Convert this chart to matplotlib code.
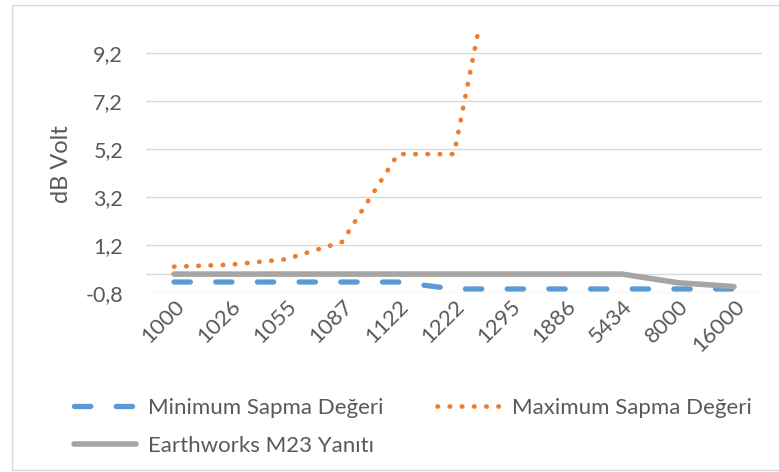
import matplotlib
matplotlib.use("Agg")
import matplotlib.pyplot as plt
from matplotlib.patches import Rectangle
import numpy as np

# Frequency points (Hz) used as categories on the x axis
frequencies = ["1000", "1026", "1055", "1087", "1122", "1222",
               "1295", "1886", "5434", "8000", "16000"]

# Responses in dB Volt
min_deviation = [-0.33, -0.33, -0.33, -0.33, -0.33, -0.62,
                 -0.62, -0.62, -0.62, -0.62, -0.62]
max_deviation = [0.31, 0.39, 0.62, 1.34, 5.0, 5.0,
                 16.8, np.nan, np.nan, np.nan, np.nan]
m23_response = [0.0, 0.0, 0.0, 0.0, 0.0, 0.0,
                0.0, 0.0, 0.0, -0.36, -0.52]

y_ticks = [-0.8, 1.2, 3.2, 5.2, 7.2, 9.2]
y_limits = (-0.8, 10.0)

series_names = ["Minimum Sapma Değeri", "Maximum Sapma Değeri",
                "Earthworks M23 Yanıtı"]

plt.rcParams['font.family'] = ['Lato', 'DejaVu Sans']

TEXT = '#595959'
GRID = '#D9D9D9'
BLUE = '#5B9BD5'
ORANGE = '#ED7D31'
GRAY = '#A5A5A5'

W, H = 779, 472
fig = plt.figure(figsize=(W / 100, H / 100), dpi=100)
fig.patch.set_facecolor('white')

# chart border
fig.patches.append(Rectangle((12 / W, 1 - 470 / H), 1.0, (470 - 5) / H,
                             transform=fig.transFigure, fill=False,
                             ec=GRID, lw=1.0))

ax = fig.add_axes([146 / W, 1 - 293.3 / H, (762 - 146) / W, (293.3 - 34.1) / H])
x = np.arange(len(frequencies))

ln_min, = ax.plot(x, min_deviation, color=BLUE, lw=3.8, dashes=(3.1, 4.8),
                  dash_capstyle='round', solid_capstyle='round', zorder=3,
                  label=series_names[0])
ln_max, = ax.plot(x, max_deviation, color=ORANGE, lw=3.4, dashes=(0.1, 2.48),
                  dash_capstyle='round', zorder=4, label=series_names[1])
ln_m23, = ax.plot(x, m23_response, color=GRAY, lw=4.0,
                  solid_capstyle='round', zorder=5, label=series_names[2])

ax.set_xlim(-0.5, len(frequencies) - 0.5)
ax.set_ylim(*y_limits)
ax.set_yticks(y_ticks)
ax.set_yticklabels([f"{v:.1f}".replace('.', ',') for v in y_ticks])
ax.set_xticks(x)
ax.set_xticklabels(frequencies, rotation=45, ha='right', va='top',
                   rotation_mode='anchor')

ax.tick_params(axis='y', length=0, pad=16.5, labelsize=15.5, labelcolor=TEXT)
ax.tick_params(axis='x', length=0, pad=2, labelsize=16, labelcolor=TEXT)
ax.grid(axis='y', color=GRID, lw=1.0)
ax.axhline(0, color=GRID, lw=1.0, zorder=1)
ax.set_axisbelow(True)
for s in ax.spines.values():
    s.set_visible(False)

ax.set_ylabel("dB Volt", fontsize=17, color=TEXT)
ax.yaxis.set_label_coords(72 / W, 1 - 164 / H, transform=fig.transFigure)

fig.legend(handles=[ln_min, ln_m23, ln_max],
           labels=[series_names[0], series_names[2], series_names[1]],
           ncol=2, loc='upper left', bbox_to_anchor=(74 / W, 1 - 398 / H),
           frameon=False, fontsize=16, labelcolor=TEXT,
           handlelength=2.8, handletextpad=0.55, columnspacing=2.4,
           labelspacing=0.8, borderpad=0, borderaxespad=0)

fig.savefig("out.png", dpi=100)
